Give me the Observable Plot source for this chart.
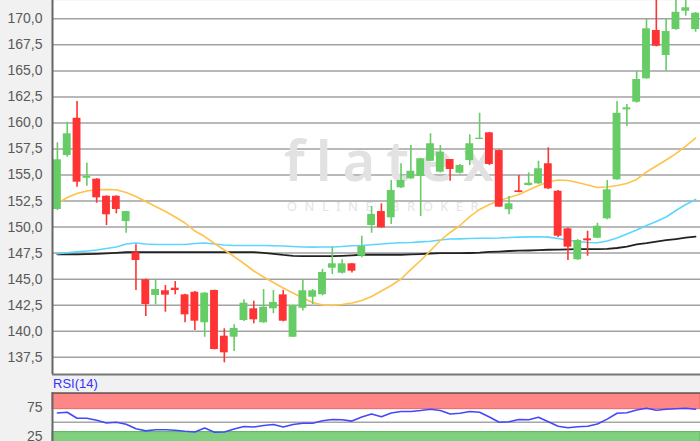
<!DOCTYPE html>
<html>
<head>
<meta charset="utf-8">
<script src="https://cdn.jsdelivr.net/npm/d3@7"></script>
<script src="https://cdn.jsdelivr.net/npm/@observablehq/plot@0.6"></script>
<style>
  html, body { margin: 0; padding: 0; background: #f1f1f1; width: 700px; height: 441px; overflow: hidden; }
  #main svg, #rsi svg { display: block; }
  #rsiLabel { height: 16px; line-height: 16px; padding-left: 53px; font: 13px "Liberation Sans", Arial, sans-serif; color: #3333ff; }
</style>
</head>
<body>
<div id="main"></div>
<div id="rsiLabel">RSI(14)</div>
<div id="rsi"></div>
<script>
// ---- data ----
const open  = [151.69,156.87,160.45,154.69,154.60,152.96,152.96,150.53,147.53,144.94,143.43,143.88,144.13,143.49,143.74,140.81,143.91,139.52,139.42,141.03,142.15,140.81,142.15,143.49,139.42,142.20,143.26,143.50,146.05,145.57,146.47,147.20,150.15,151.49,150.89,153.77,154.63,154.86,156.32,155.27,156.49,155.17,156.39,158.41,159.05,157.35,151.66,153.48,153.99,154.15,156.08,153.44,149.83,146.86,148.87,148.93,150.79,154.54,161.26,161.99,164.24,168.88,166.48,168.97,170.73,168.97];
const high  = [158.09,160.07,162.06,156.13,154.65,153.00,153.00,151.50,148.30,145.00,144.94,144.39,144.77,143.55,143.80,143.70,143.95,140.23,140.61,143.01,142.88,144.00,143.90,143.91,142.50,144.92,144.00,145.95,148.07,146.86,146.50,149.12,151.97,152.23,154.47,156.08,157.83,156.60,158.96,157.83,156.50,156.00,158.86,160.93,159.10,157.40,152.93,154.95,155.21,156.32,157.61,153.50,149.90,148.80,149.60,150.37,154.47,162.06,161.77,164.97,169.93,172.50,169.93,172.30,172.30,170.60];
const low   = [151.60,156.71,153.83,153.92,152.29,150.15,151.27,149.41,143.91,141.41,142.53,141.82,143.49,140.81,140.07,139.42,138.20,136.96,138.05,140.93,140.71,140.75,141.67,140.90,139.40,141.94,142.56,143.40,145.44,145.50,145.60,147.05,149.41,149.90,150.25,153.70,154.60,151.01,156.30,155.20,154.40,155.10,155.91,158.40,155.90,151.90,151.18,153.30,153.95,154.10,153.60,149.00,146.79,146.80,147.20,148.90,150.70,154.50,159.66,161.90,164.20,167.30,164.94,168.90,170.25,168.71];
const close = [156.46,158.96,154.31,154.88,152.81,151.18,151.69,151.49,146.79,142.56,144.00,143.46,143.91,141.57,140.96,143.65,138.24,137.92,140.26,142.69,141.09,142.30,142.76,140.96,142.47,143.88,143.88,145.64,146.47,146.47,145.76,148.13,151.21,149.93,153.51,154.47,155.36,156.56,158.00,157.19,155.53,155.91,158.00,158.53,156.01,151.91,152.23,153.32,154.21,155.60,153.67,149.12,148.07,148.71,148.68,150.08,153.58,160.93,161.45,164.17,169.04,167.37,168.78,170.63,171.06,170.54];

const maOrange = [152.26,152.84,153.22,153.46,153.59,153.61,153.59,153.32,152.93,152.45,151.97,151.49,150.97,150.39,149.62,149.09,148.42,147.80,147.17,146.50,145.78,145.20,144.68,144.15,143.67,143.19,142.75,142.51,142.47,142.56,142.71,142.95,143.33,143.86,144.39,145.01,145.93,146.79,147.75,148.71,149.48,150.15,151.01,151.69,152.17,152.55,152.84,153.13,153.56,153.99,154.33,154.52,154.47,154.28,154.04,153.80,153.85,153.99,154.18,154.57,155.29,155.86,156.44,157.06,157.78,158.55];
const maCyan   = [147.43,147.53,147.62,147.70,147.80,147.94,148.09,148.37,148.47,148.37,148.33,148.33,148.33,148.33,148.42,148.47,148.37,148.28,148.23,148.23,148.23,148.23,148.20,148.18,148.13,148.09,148.07,148.09,148.09,148.13,148.20,148.23,148.30,148.37,148.45,148.49,148.52,148.58,148.64,148.76,148.85,148.87,148.90,148.93,148.93,148.95,149.00,149.03,149.06,149.07,149.03,148.90,148.74,148.61,148.52,148.49,148.66,148.95,149.33,149.72,150.15,150.53,150.97,151.59,152.17,152.65];
const maBlack  = [147.38,147.37,147.37,147.40,147.43,147.48,147.53,147.58,147.59,147.59,147.59,147.59,147.59,147.59,147.59,147.59,147.59,147.59,147.59,147.59,147.59,147.53,147.43,147.32,147.24,147.20,147.20,147.20,147.20,147.24,147.29,147.34,147.34,147.34,147.34,147.34,147.37,147.41,147.46,147.49,147.49,147.49,147.51,147.54,147.61,147.65,147.70,147.73,147.75,147.78,147.82,147.84,147.86,147.89,147.89,147.89,147.91,147.99,148.13,148.33,148.45,148.61,148.74,148.85,148.98,149.09];

const rsi = [65.9,67.1,56.9,56.9,53.3,48.6,49.8,46.4,38.6,35.0,36.9,36.9,36.0,34.3,33.1,40.0,32.8,33.1,38.3,42.6,41.6,44.3,46.0,41.6,46.0,48.3,48.3,52.6,54.7,54.1,51.9,58.8,64.3,59.5,65.9,68.4,68.4,70.2,72.4,70.2,64.1,65.5,68.4,67.1,59.0,50.0,50.9,54.7,54.3,58.6,50.9,43.1,40.5,42.2,42.9,46.9,55.3,65.5,66.4,71.0,74.0,70.5,72.4,73.3,74.0,72.4];

const priceTicks = [137.5,140,142.5,145,147.5,150,152.5,155,157.5,160,162.5,165,167.5,170];
const rsiTickLabels = [25, 75];
const rsiMid = [50];
const rsiBandLo = [0, 72.5];
const rsiBandHi = [33, 100];
const rsiBandFill = ["#7fd07f", "#ff8686"];
const rsiBandStroke = ["#5fb85f", "#e06a6a"];
const watermark = ["flatex"];
const watermarkSub = ["ONLINE BROKER"];

// ---- derived tables ----
const n = open.length;
const xDomain = [-0.5, n - 0.5];
const candles = d3.range(n).map(i => ({i, open: open[i], high: high[i], low: low[i], close: close[i]}));
const bands = rsiBandLo.map((lo, k) => ({lo, hi: rsiBandHi[k], fill: rsiBandFill[k], stroke: rsiBandStroke[k]}));
const GREEN = "#66cc66", RED = "#ff3333";
const col = d => d.close >= d.open ? GREEN : RED;
const fmt = d => d.toFixed(1).replace(".", ",");
const font = '"Liberation Sans", Arial, sans-serif';

const main = Plot.plot({
  width: 700, height: 376,
  marginLeft: 52, marginRight: 0, marginTop: 0, marginBottom: 2,
  style: {background: "transparent", fontFamily: font, color: "#5a5a5a"},
  x: {type: "linear", domain: xDomain, axis: null},
  y: {domain: [135.84, 171.76], axis: null},
  color: {type: "identity"},
  marks: [
    Plot.frame({fill: "white", stroke: "none"}),
    Plot.gridY(priceTicks, {stroke: "#a2a2a2", strokeOpacity: 1, strokeWidth: 1.5}),
    Plot.text(watermark, {frameAnchor: "middle", dx: 18, dy: -24, fontSize: 56, fontWeight: 600, fontFamily: "'Noto Sans', sans-serif", fill: "#e2e2e2"}),
    Plot.text(watermarkSub, {frameAnchor: "middle", dx: 10, dy: 19, fontSize: 13, fontFamily: "'Noto Sans', sans-serif", fill: "#e4e4e4"}),
    Plot.lineY(maBlack, {x: (d, i) => i, y: d => d, stroke: "#222", strokeWidth: 1.8}),
    Plot.lineY(maCyan, {x: (d, i) => i, y: d => d, stroke: "#5cd6ff", strokeWidth: 1.6}),
    Plot.lineY(maOrange, {x: (d, i) => i, y: d => d, stroke: "#ffc24a", strokeWidth: 1.6}),
    Plot.ruleX(candles, {x: "i", y1: "low", y2: "high", stroke: col, strokeWidth: 1.6, clip: true}),
    Plot.rect(candles, {x1: d => d.i - 0.4, x2: d => d.i + 0.4, y1: "open", y2: "close", fill: col, clip: true}),
    Plot.axisY(priceTicks, {tickSize: 0, tickPadding: 10, tickFormat: fmt, fontSize: 14, fill: "#5a5a5a"}),
    Plot.ruleX([xDomain[0]], {stroke: "#666", strokeWidth: 2}),
    Plot.ruleY([135.84], {stroke: "#777", strokeWidth: 2})
  ]
});
d3.select(main).selectAll("text").each(function() {
  if (this.textContent === watermark[0]) d3.select(this).attr("letter-spacing", 11);
  if (this.textContent === watermarkSub[0]) d3.select(this).attr("letter-spacing", 7.5);
});
document.getElementById("main").append(main);

const rsiChart = Plot.plot({
  width: 700, height: 60,
  marginLeft: 52, marginRight: 0, marginTop: 0, marginBottom: 0,
  style: {background: "transparent", fontFamily: font, color: "#5a5a5a"},
  x: {type: "linear", domain: xDomain, axis: null},
  y: {domain: [0, 100], range: [58.7, 0.7], axis: null},
  color: {type: "identity"},
  marks: [
    Plot.frame({fill: "white", stroke: "none"}),
    Plot.rect(bands, {x1: () => xDomain[0], x2: () => xDomain[1], y1: "lo", y2: "hi", fill: "fill", stroke: "stroke", strokeWidth: 1}),
    Plot.gridY(rsiMid, {stroke: "#a6a6a6", strokeOpacity: 1, strokeWidth: 1.5}),
    Plot.lineY(rsi, {x: (d, i) => i, y: d => d, stroke: "#4646ff", strokeWidth: 1.6}),
    Plot.axisY(rsiTickLabels, {tickSize: 0, tickPadding: 10, fontSize: 14, fill: "#5a5a5a"}),
    Plot.ruleY([100], {stroke: "#666", strokeWidth: 1.5}),
    Plot.ruleX([xDomain[0]], {stroke: "#666", strokeWidth: 2})
  ]
});
document.getElementById("rsi").append(rsiChart);
</script>
</body>
</html>
